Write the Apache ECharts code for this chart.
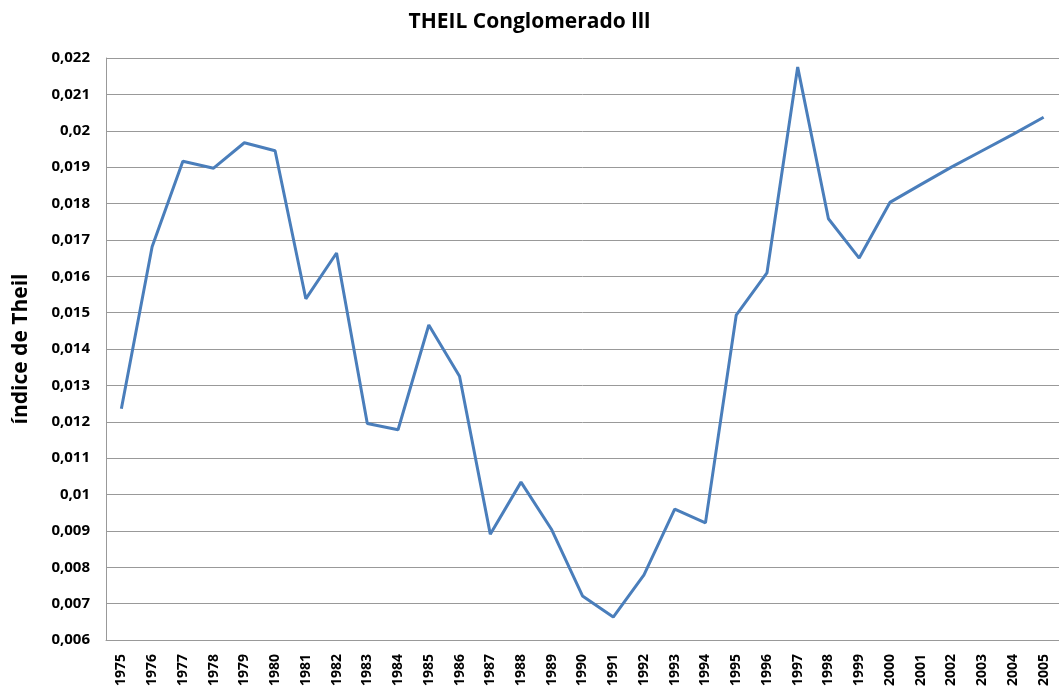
<!DOCTYPE html>
<html style="height: 100%">
<head>
    <meta charset="utf-8">
    <title>THEIL Conglomerado lll</title>
    <script src="https://cdn.jsdelivr.net/npm/echarts/dist/echarts.min.js"></script>
</head>
<body style="height: 100%; margin: 0; background: #fff">
    <div id="main" style="width: 1059px; height: 697px"></div>
    <script type="text/javascript">
        var years = [];
        for (var y = 1975; y <= 2005; y++) years.push(String(y));

        // valores del índice de Theil
        var theil = [
            0.01236, 0.01681, 0.01916, 0.01897, 0.01967, 0.01945, 0.01538, 0.01664,
            0.01195, 0.01178, 0.01466, 0.01325, 0.00891, 0.01034, 0.00903, 0.00721,
            0.00663, 0.00779, 0.00960, 0.00922, 0.01493, 0.01609, 0.02175, 0.01758,
            0.01650, 0.01803, 0.01852, 0.01900, 0.01945, 0.01990, 0.02037
        ];

        var font = '"Open Sans", "DejaVu Sans", sans-serif';
        var myChart = echarts.init(document.getElementById('main'));

        var option = {
            animation: false,
            title: {
                text: 'THEIL Conglomerado lll',
                left: 'center',
                top: 7,
                textStyle: { fontFamily: font, fontWeight: 'bold', fontSize: 21, color: '#000' }
            },
            grid: { left: 106, right: 0, top: 58, bottom: 57 },
            xAxis: {
                type: 'category',
                data: years,
                boundaryGap: true,
                axisLine: { lineStyle: { color: '#999', width: 1 } },
                axisTick: { show: false },
                axisLabel: {
                    rotate: 90, interval: 0, margin: 14,
                    fontFamily: font, fontWeight: 'bold', fontSize: 14, color: '#000'
                }
            },
            yAxis: {
                type: 'value',
                min: 0.006, max: 0.022, interval: 0.001,
                name: 'índice de Theil',
                nameLocation: 'middle',
                nameGap: 74,
                nameRotate: 90,
                nameTextStyle: { fontFamily: font, fontWeight: 'bold', fontSize: 21, color: '#000' },
                axisLine: { show: true, lineStyle: { color: '#999', width: 1 } },
                axisTick: { show: false },
                splitLine: { lineStyle: { color: '#999', width: 1 } },
                axisLabel: {
                    margin: 16,
                    fontFamily: font, fontWeight: 'bold', fontSize: 15, color: '#000',
                    formatter: function (v) {
                        return String(parseFloat(v.toFixed(3))).replace('.', ',');
                    }
                }
            },
            series: [{
                type: 'line',
                data: theil,
                symbol: 'none',
                lineStyle: { color: '#4a7ebb', width: 3 }
            }]
        };

        myChart.setOption(option);
    </script>
</body>
</html>
